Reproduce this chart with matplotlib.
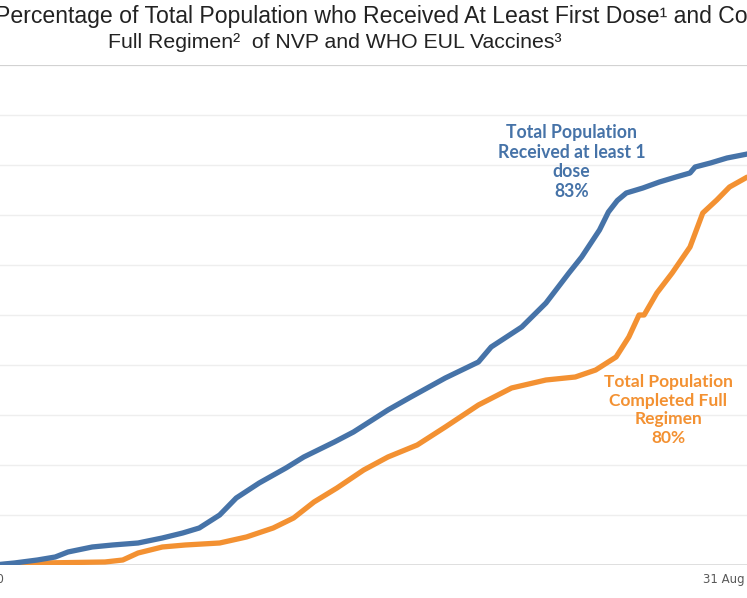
import matplotlib
matplotlib.use("Agg")
import matplotlib.pyplot as plt

# days since the first tick, and share of total population in %
first_dose_days = [22, 38, 56, 70, 80, 99, 115, 135, 154, 170, 183, 199, 212, 230,
                   251, 265, 289, 304, 331, 349, 376, 402, 412, 436, 455, 473, 483,
                   497, 504, 511, 518, 531, 544, 557, 568, 572, 584, 597, 613, 622]
first_dose_pct = [0, 0.4, 1.0, 1.6, 2.6, 3.6, 4.0, 4.4, 5.4, 6.4, 7.4, 10.0, 13.4,
                  16.4, 19.4, 21.6, 24.6, 26.6, 31.0, 33.6, 37.4, 40.6, 43.6, 47.6,
                  52.4, 58.4, 61.6, 67.0, 70.6, 72.9, 74.4, 75.4, 76.6, 77.6, 78.4,
                  79.6, 80.4, 81.4, 82.2, 83.0]

full_days = [22, 59, 109, 123, 135, 154, 172, 199, 220, 241, 257, 273, 291, 312,
             331, 354, 376, 402, 428, 455, 478, 494, 510, 520, 528, 532, 542, 554,
             568, 578, 589, 599, 613, 626]
full_pct = [0, 0.4, 0.6, 1.0, 2.4, 3.6, 4.0, 4.4, 5.6, 7.4, 9.4, 12.6, 15.4, 19.0,
            21.6, 24.0, 27.6, 32.0, 35.4, 37.0, 37.6, 39.0, 41.6, 45.6, 50.0, 50.0,
            54.4, 58.4, 63.6, 70.4, 73.0, 75.6, 77.6, 80.0]

tick_days = [0, 608]
tick_labels = ["31 Dec 2020", "31 Aug 2022"]

blue = "#4673a8"
orange = "#f39132"

fig = plt.figure(figsize=(7.47, 5.98), dpi=100)
ax = fig.add_axes([-0.0455, 0.0552, 1.075, 0.8361])

for y in range(10, 100, 10):
    ax.axhline(y, color="#eeeeee", lw=1, zorder=0)
ax.axhline(0, color="#d9d9d9", lw=1.2, zorder=0)
ax.axhline(100, color="#d2d2d2", lw=1.6, zorder=0)

ax.plot(full_days, full_pct, color=orange, lw=3.8, solid_capstyle="butt")
ax.plot(first_dose_days, first_dose_pct, color=blue, lw=3.8, solid_capstyle="butt")

ax.set_xlim(0, 630)
ax.set_ylim(0, 100)
for s in ax.spines.values():
    s.set_visible(False)
ax.set_yticks([])
ax.set_xticks(tick_days)
ax.set_xticklabels(tick_labels, color="#595959", fontsize=8.5)
ax.tick_params(axis="x", length=0, pad=6)

ax.text(475, 80.6, "Total Population\nReceived at least 1\ndose\n83%",
        ha="center", va="center", color=blue, fontsize=12.7,
        family="Lato", weight="bold", linespacing=1.17)
ax.text(551, 31.0, "Total Population\nCompleted Full\nRegimen\n80%",
        ha="center", va="center", color=orange, fontsize=12.5,
        family="Lato", weight="bold", linespacing=1.2)

fig.text(-5 / 747, 1 - 17 / 598,
         "Percentage of Total Population who Received At Least First Dose\u00b9 and Completed",
         ha="left", va="center", fontsize=16.6, family="Liberation Sans", color="#222222")
fig.text(335 / 747, 1 - 43 / 598,
         "Full Regimen\u00b2  of NVP and WHO EUL Vaccines\u00b3",
         ha="center", va="center", fontsize=15.3, family="Liberation Sans", color="#222222")

fig.savefig("out.png", dpi=100)
